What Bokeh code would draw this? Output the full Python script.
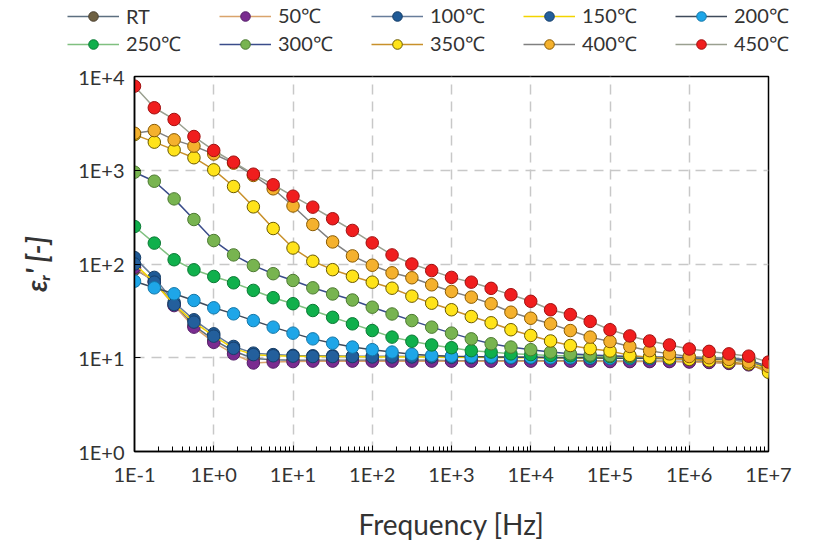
from bokeh.plotting import figure
from bokeh.layouts import column
from bokeh.models import FixedTicker, Legend, LegendItem, Range1d
from bokeh.embed import file_html
from bokeh.resources import INLINE

# Measurement frequencies [Hz], four points per decade
freq = [0.1, 0.1778, 0.3162, 0.5623, 1, 1.778, 3.162, 5.623,
        10, 17.78, 31.62, 56.23, 100, 177.8, 316.2, 562.3,
        1e3, 1778, 3162, 5623, 1e4, 17783, 31623, 56234,
        1e5, 177828, 316228, 562341, 1e6, 1778279, 3162278, 5623413, 1e7]

# Relative permittivity eps_r' at each temperature
eps_rt = [88, 66, 37, 22, 15.5, 11.8, 9.8, 9.5, 9.4, 9.4,
          9.4, 9.4, 9.4, 9.4, 9.4, 9.4, 9.3, 9.3, 9.3, 9.3,
          9.3, 9.3, 9.3, 9.3, 9.2, 9.2, 9.2, 9.2, 9.1, 9.0,
          8.8, 8.5, 7.4]
eps_50 = [92, 64, 36, 21.2, 14.6, 11.0, 8.8, 9.0, 9.1, 9.2,
          9.2, 9.2, 9.2, 9.2, 9.2, 9.2, 9.2, 9.2, 9.2, 9.2,
          9.2, 9.2, 9.2, 9.2, 9.1, 9.1, 9.1, 9.1, 9.0, 8.9,
          8.7, 8.4, 7.3]
eps_100 = [117, 72, 39, 25.4, 18.0, 13.2, 11.2, 10.8, 10.6, 10.5,
           10.5, 10.4, 10.4, 10.4, 10.3, 10.3, 10.3, 10.2, 10.2, 10.2,
           10.1, 10.1, 10.0, 10.0, 10.0, 9.9, 9.9, 9.8, 9.8, 9.7,
           9.6, 9.2, 7.6]
eps_150 = [100, 64, 37, 24, 17, 12.6, 10.8, 10.5, 10.4, 10.3,
           10.3, 10.3, 10.2, 10.2, 10.2, 10.2, 10.1, 10.1, 10.1, 10.0,
           10.0, 10.0, 10.0, 9.9, 9.9, 9.9, 9.8, 9.8, 9.7, 9.6,
           9.5, 9.1, 7.5]
eps_200 = [65.5, 55.7, 48.1, 40.8, 34.1, 29.4, 24.9, 21.2, 18.3, 15.9,
           14.3, 13.0, 12.2, 11.5, 10.9, 10.6, 10.4, 10.3, 10.2, 10.1,
           10.1, 10.0, 10.0, 10.0, 9.9, 9.9, 9.9, 9.8, 9.8, 9.7,
           9.6, 9.4, 7.8]
eps_250 = [251, 167, 111, 86.7, 73.6, 63, 52.3, 43.7, 37.7, 31.9,
           27, 23, 19.5, 16.6, 15.0, 13.7, 12.8, 11.9, 11.5, 11.0,
           10.8, 10.6, 10.5, 10.4, 10.3, 10.2, 10.1, 10.0, 10.0, 9.9,
           9.8, 9.5, 8.0]
eps_300 = [953, 764, 495, 298, 178, 125, 96.4, 78.8, 66.7, 55.7,
           47.9, 41.3, 34.6, 29.3, 24.9, 21.2, 18.3, 15.9, 14.1, 13.0,
           12.2, 11.5, 11.0, 10.7, 10.5, 10.3, 10.2, 10.1, 10.0, 9.9,
           9.8, 9.5, 8.0]
eps_350 = [2400, 1995, 1650, 1360, 1010, 671, 407, 239, 148, 107,
           87, 74, 64, 55.2, 45.4, 38.2, 32.5, 27.5, 23.6, 19.9,
           17.3, 15.1, 13.5, 12.5, 11.8, 10.6, 10.1, 9.9, 9.6, 9.3,
           9.0, 8.6, 7.0]
eps_400 = [2480, 2650, 2110, 1810, 1490, 1190, 880, 634, 416, 264,
           172, 122, 97, 80.5, 71.3, 60, 50.9, 44.3, 37.7, 30.6,
           26.4, 23, 19.5, 16.6, 14.9, 13.2, 11.9, 11.0, 10.3, 10.0,
           9.6, 9.0, 8.1]
eps_450 = [7890, 4640, 3480, 2290, 1625, 1220, 908, 700, 529, 404,
           304, 228, 168, 125, 100, 85, 72, 64, 55, 47,
           40, 32.5, 28.9, 24.4, 19.9, 17.1, 15.1, 13.7, 12.4, 11.7,
           11.0, 10.4, 9.0]

labels = ["RT", "50℃", "100℃", "150℃", "200℃",
          "250℃", "300℃", "350℃", "400℃", "450℃"]
series = [eps_rt, eps_50, eps_100, eps_150, eps_200,
          eps_250, eps_300, eps_350, eps_400, eps_450]

x_ticks = [0.1, 1, 10, 100, 1e3, 1e4, 1e5, 1e6, 1e7]
x_tick_labels = ["1E-1", "1E+0", "1E+1", "1E+2", "1E+3", "1E+4", "1E+5", "1E+6", "1E+7"]
y_ticks = [1, 10, 100, 1000, 10000]
y_tick_labels = ["1E+0", "1E+1", "1E+2", "1E+3", "1E+4"]

# marker fill, marker edge, connecting line
styles = [
    ("#6f6142", "#4a4030", "#5d6f80"),
    ("#7a2c90", "#55206a", "#d9a46c"),
    ("#1f5a96", "#143c66", "#687d9a"),
    ("#235f9c", "#173f6a", "#f2d400"),
    ("#1ea6e8", "#1477a8", "#3f4a5a"),
    ("#10b04c", "#0a7a34", "#80c080"),
    ("#78b450", "#4d7a32", "#3a4c8a"),
    ("#ffe31a", "#6a5a00", "#c8902a"),
    ("#f4b12e", "#8a5a00", "#808080"),
    ("#f01e1e", "#a01010", "#9aa090"),
]

FONT = "Lato"
TXT = "#333333"
LEG_H = 60

# ---- main chart ----
p = figure(width=817, height=558 - LEG_H, x_axis_type="log", y_axis_type="log",
           x_range=(0.1, 1e7), y_range=(1, 1e4),
           output_backend="svg", toolbar_location=None,
           min_border_left=134, min_border_right=49,
           min_border_top=76 - LEG_H, min_border_bottom=107,
           frame_align=False)

p.outline_line_color = "black"
p.outline_line_width = 1.5
p.background_fill_color = "white"
p.border_fill_color = "white"

minor_x = [m * 10.0 ** k for k in range(-1, 7) for m in range(2, 10)]
p.xaxis.ticker = FixedTicker(ticks=x_ticks, minor_ticks=minor_x)
p.xaxis.major_label_overrides = {t: s for t, s in zip(x_ticks, x_tick_labels)}
p.yaxis.ticker = FixedTicker(ticks=y_ticks, minor_ticks=[])
p.yaxis.major_label_overrides = {t: s for t, s in zip(y_ticks, y_tick_labels)}

for ax in (p.xaxis, p.yaxis):
    ax.axis_line_color = "black"
    ax.axis_line_width = 1.5
    ax.major_tick_line_color = "black"
    ax.major_tick_out = 0
    ax.major_tick_in = 6
    ax.major_label_text_font = FONT
    ax.major_label_text_font_size = "20px"
    ax.major_label_text_color = TXT
    ax.major_label_standoff = 10
    ax.axis_label_text_font = FONT
    ax.axis_label_text_font_size = "28px"
    ax.axis_label_text_color = TXT

p.xaxis.minor_tick_line_color = "black"
p.xaxis.minor_tick_in = 5
p.xaxis.minor_tick_out = 0
p.yaxis.minor_tick_line_color = None

p.xaxis.axis_label = "Frequency [Hz]"
p.xaxis.axis_label_text_font_style = "normal"
p.xaxis.axis_label_standoff = 18
p.yaxis.axis_label = "ε\u1d63' [-]"
p.yaxis.axis_label_text_font_style = "bold italic"
p.yaxis.axis_label_standoff = 22

p.xgrid.ticker = FixedTicker(ticks=x_ticks)
p.ygrid.ticker = FixedTicker(ticks=y_ticks)
for g in (p.xgrid, p.ygrid):
    g.grid_line_color = "#c8c8c8"
    g.grid_line_width = 1.5
    g.grid_line_dash = "10 7"

for ys, (fill, edge, line) in zip(series, styles):
    p.line(freq, ys, line_color=line, line_width=1.5)
    p.scatter(freq, ys, size=12.5, fill_color=fill, line_color=edge, line_width=1)

# ---- legend strip above the chart (legend-only renderers hold no visible data) ----
leg = figure(width=817, height=LEG_H, output_backend="svg", toolbar_location=None,
             x_range=Range1d(0, 1), y_range=Range1d(0, 1),
             x_axis_location=None, y_axis_location=None,
             min_border=0, outline_line_color=None, frame_align=False)
leg.grid.visible = False
leg.border_fill_color = "white"

nan = float("nan")
items = []
for lab, (fill, edge, line) in zip(labels, styles):
    r_line = leg.line(x=[nan, nan], y=[nan, nan], line_color=line, line_width=1.5)
    r_pt = leg.scatter(x=[nan], y=[nan], size=12, fill_color=fill, line_color=edge, line_width=1)
    items.append(LegendItem(label=lab, renderers=[r_line, r_pt]))

legend = Legend(items=items, orientation="horizontal", ncols=5,
                location=(67, 3),
                glyph_width=52, glyph_height=24, label_height=24,
                label_width=92, label_standoff=7, spacing=1,
                padding=4, margin=0,
                label_text_font=FONT, label_text_font_size="20px",
                label_text_color=TXT,
                background_fill_alpha=0, border_line_color=None)
leg.add_layout(legend)

layout = column(leg, p, spacing=0)
open("out.html", "w").write(file_html(layout, INLINE))
